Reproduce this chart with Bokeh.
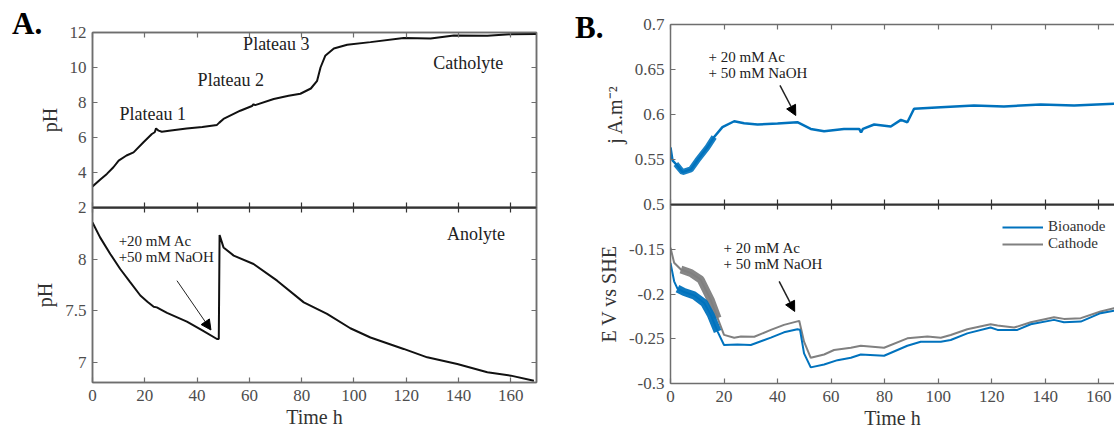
from bokeh.plotting import figure
from bokeh.layouts import row, column
from bokeh.models import (LinearAxis, FixedTicker, Range1d, Label, Arrow, NormalHead,
                          Legend, LegendItem, Div)
from bokeh.embed import file_html
from bokeh.resources import INLINE

FONT = "Liberation Serif"
FRAME = "#6e6e6e"
MID = "#333333"
TICKLBL = "#4d4d4d"
BLUE = "#0072BD"
GRAY = "#808080"

# ---------------- data ----------------
CATH_T = [0, 3, 5.5, 8, 10, 13, 15.7, 19.5, 22.7, 23.8, 24.3, 25.3, 26.5, 30, 36, 42, 47.6,
          48.5, 50.1, 56.5, 61, 61.6, 62.2, 69.3, 75, 79.5, 83.5, 85.9, 87.2, 89, 92.3, 97.4,
          106.3, 119, 129.3, 138.2, 151, 160, 169.7]
CATH_PH = [3.2, 3.6, 3.92, 4.3, 4.68, 4.97, 5.15, 5.73, 6.2, 6.3, 6.52, 6.39, 6.33, 6.4, 6.52,
           6.6, 6.72, 6.85, 7.06, 7.53, 7.8, 7.9, 7.85, 8.2, 8.38, 8.5, 8.8, 9.24, 10.0, 10.67,
           11.09, 11.3, 11.45, 11.68, 11.66, 11.83, 11.81, 11.9, 11.92]

AN_T = [0, 2.9, 6.8, 10.6, 14.4, 18.3, 21, 23.4, 24.6, 26, 28.5, 36.1, 42, 47.6, 48.3, 48.6,
        50.1, 54, 61.6, 70.6, 80.8, 89.7, 98.6, 106.3, 119, 128, 139.5, 151, 160, 168.8]
AN_PH = [8.364, 8.218, 8.056, 7.909, 7.78, 7.65, 7.59, 7.54, 7.534, 7.515, 7.48, 7.395, 7.31,
         7.225, 7.225, 8.24, 8.12, 8.04, 7.958, 7.795, 7.583, 7.47, 7.33, 7.24, 7.128, 7.046,
         6.98, 6.9, 6.867, 6.818]

J_T = [0, 0.75, 2, 4.5, 7.6, 10, 13.8, 16.3, 19.4, 23.8, 27.5, 32.5, 40, 47.4, 52.4, 57.4,
       64.8, 70.5, 71.2, 71.9, 76.1, 82.3, 86.1, 88.5, 91, 101, 113.4, 124.6, 138.3, 150.8,
       165.7, 170]
J_VAL = [0.5635, 0.549, 0.545, 0.536, 0.539, 0.549, 0.5635, 0.575, 0.586, 0.5925, 0.5903,
         0.5889, 0.590, 0.5914, 0.584, 0.5814, 0.584, 0.584, 0.580, 0.584, 0.5889, 0.5866,
         0.594, 0.5914, 0.6064, 0.608, 0.610, 0.609, 0.611, 0.610, 0.612, 0.612]

BIO_T = [0, 1.36, 2.6, 5.1, 8.8, 12.6, 15, 17.6, 20, 25, 30, 37.5, 42.4, 47.4, 48.4, 49.9,
         52.4, 57.4, 62.4, 67.4, 71.1, 79.8, 88.5, 93.5, 101, 104.7, 110.9, 119.6, 122.2,
         129.6, 134.6, 143.3, 147, 153.3, 160.7, 165.7, 170]
BIO_E = [-0.1652, -0.1858, -0.194, -0.1978, -0.2015, -0.210, -0.223, -0.242, -0.257, -0.2563,
         -0.257, -0.2488, -0.2428, -0.2394, -0.24, -0.2664, -0.282, -0.2788, -0.2739, -0.2713,
         -0.2676, -0.269, -0.2578, -0.2533, -0.2533, -0.2514, -0.244, -0.2375, -0.2401,
         -0.2401, -0.2338, -0.2289, -0.2316, -0.2308, -0.2214, -0.2188, -0.218]

CAT_T = [0, 1.36, 3.9, 7.6, 11.3, 15, 17.6, 20, 23.8, 26.3, 31.3, 37.5, 42.4, 48.1, 49.9,
         52.4, 57.4, 61.1, 67.4, 71.1, 79.8, 88.5, 96, 101, 104.7, 110.9, 119.6, 122.2, 128.4,
         134.6, 143.3, 147, 153.3, 160.7, 165.7, 170]
CAT_E = [-0.1483, -0.165, -0.1727, -0.1765, -0.184, -0.2064, -0.227, -0.2457, -0.2488,
         -0.2476, -0.2478, -0.2401, -0.2345, -0.230, -0.2533, -0.2713, -0.2676, -0.2626, -0.26,
         -0.2578, -0.26, -0.2495, -0.2476, -0.2488, -0.2458, -0.2394, -0.2338, -0.2353,
         -0.2375, -0.2316, -0.2259, -0.2278, -0.227, -0.2195, -0.2158, -0.2155]

X_TICKS = [0, 20, 40, 60, 80, 100, 120, 140, 160]
X_LABELS = ["0", "20", "40", "60", "80", "100", "120", "140", "160"]
A_TOP_TICKS = [2, 4, 6, 8, 10, 12]
A_TOP_LABELS = ["2", "4", "6", "8", "10", "12"]
A_BOT_TICKS = [7, 7.5, 8]
A_BOT_LABELS = ["7", "7.5", "8"]
B_TOP_TICKS = [0.5, 0.55, 0.6, 0.65, 0.7]
B_TOP_LABELS = ["0.5", "0.55", "0.6", "0.65", "0.7"]
B_BOT_TICKS = [-0.3, -0.25, -0.2, -0.15]
B_BOT_LABELS = ["-0.3", "-0.25", "-0.2", "-0.15"]

NOISE_WINDOW = (1.5, 18.0)   # early, noisy part of the electrochemical signals


# ---------------- helpers ----------------
def make_fig(x_end, y0, y1, ml, mr, mt, mb, fh, fw=444, transparent=False, outline=False):
    p = figure(x_range=Range1d(0, x_end), y_range=Range1d(y0, y1),
               frame_width=fw, frame_height=fh,
               min_border_left=ml, min_border_right=mr,
               min_border_top=mt, min_border_bottom=mb,
               x_axis_location=None, y_axis_location=None,
               output_backend="svg", toolbar_location=None)
    if outline:
        p.outline_line_color = FRAME
        p.outline_line_width = 1.5
    else:
        p.outline_line_color = None
    p.grid.visible = False
    p.border_fill_alpha = 0
    if transparent:
        p.background_fill_alpha = 0
    else:
        p.background_fill_color = "white"
    return p


def add_axis(p, side, ticks, labels=None, color=FRAME, width=1.5, title=None,
             title_standoff=6, label_standoff=6):
    ax = LinearAxis(ticker=FixedTicker(ticks=ticks))
    ax.axis_line_color = color
    ax.axis_line_width = width
    ax.major_tick_line_color = color
    ax.major_tick_line_width = 1.2
    ax.major_tick_in = 5
    ax.major_tick_out = 0
    ax.minor_tick_line_color = None
    if labels is None:
        ax.major_label_text_font_size = "1px"
        ax.major_label_text_color = None
        ax.major_label_standoff = 0
    else:
        ax.major_label_overrides = {t: l for t, l in zip(ticks, labels)}
        ax.major_label_text_font = FONT
        ax.major_label_text_font_size = "17px"
        ax.major_label_text_color = TICKLBL
        ax.major_label_standoff = label_standoff
    if title:
        ax.axis_label = title
        ax.axis_label_text_font = FONT
        ax.axis_label_text_font_size = "20px"
        ax.axis_label_text_font_style = "normal"
        ax.axis_label_text_color = "#333333"
        ax.axis_label_standoff = title_standoff
    p.add_layout(ax, side)
    return ax


def text(p, x, y, s, size="18px", align="left", baseline="middle", color="#222222"):
    p.add_layout(Label(x=x, y=y, text=s, text_font=FONT, text_font_size=size,
                       text_align=align, text_baseline=baseline, text_color=color))


def arrow(p, x0, y0, x1, y1, lw=1.2):
    p.add_layout(Arrow(end=NormalHead(size=10, fill_color="black", line_color="black"),
                       x_start=x0, y_start=y0, x_end=x1, y_end=y1,
                       line_width=lw, line_color="#222222"))


def window(ts, vs):
    lo, hi = NOISE_WINDOW
    idx = [i for i, t in enumerate(ts) if lo <= t <= hi]
    return [ts[i] for i in idx], [vs[i] for i in idx]


def panel_letter(s, top, left):
    html = ('<div style="font-family: \'Liberation Serif\'; font-size: 31px; '
            'font-weight: bold; line-height: 31px; color: black; white-space: nowrap;">'
            + s + '</div>')
    return Div(text=html, width=50, height=40, margin=(top, 0, -(40 + top), left),
               styles={"z-index": "10", "position": "relative"})


OVERLAP = 10

# ---------------- panel A ----------------
XA = 169.8
a1 = make_fig(XA, 2, 12, ml=92, mr=30, mt=32, mb=OVERLAP, fh=175, outline=True)
add_axis(a1, "left", A_TOP_TICKS, A_TOP_LABELS, title="pH")
add_axis(a1, "right", A_TOP_TICKS)
add_axis(a1, "above", X_TICKS)
add_axis(a1, "below", X_TICKS, color=MID, width=2)
a1.line(CATH_T, CATH_PH, line_color="#111111", line_width=2)
text(a1, 10.3, 7.36, "Plateau 1")
text(a1, 40.2, 9.28, "Plateau 2")
text(a1, 57.6, 11.34, "Plateau 3")
text(a1, 130.3, 10.23, "Catholyte")

a2 = make_fig(XA, 6.8, 8.51, ml=92, mr=30, mt=0, mb=46, fh=175, transparent=True,
              outline=True)
a2.margin = (-OVERLAP, 0, 0, 0)
add_axis(a2, "left", A_BOT_TICKS, A_BOT_LABELS, title="pH")
add_axis(a2, "right", A_BOT_TICKS)
add_axis(a2, "above", X_TICKS, color=MID, width=2)
add_axis(a2, "below", X_TICKS, X_LABELS, title="Time h", title_standoff=2, label_standoff=7)
a2.line(AN_T, AN_PH, line_color="#111111", line_width=2)
text(a2, 135.6, 8.251, "Anolyte")
text(a2, 10.0, 8.186, "+20 mM Ac", size="15px")
text(a2, 10.0, 8.022, "+50 mM NaOH", size="15px")
arrow(a2, 32.3, 7.795, 45.3, 7.313, lw=1)

# ---------------- panel B ----------------
XB = 165.9
b1 = make_fig(XB, 0.5, 0.7, ml=104, mr=0, mt=24, mb=OVERLAP, fh=180)
add_axis(b1, "left", B_TOP_TICKS, B_TOP_LABELS, title="j A.m\u207b\u00b2")
add_axis(b1, "above", X_TICKS)
add_axis(b1, "below", X_TICKS, color=MID, width=2)
b1.line(J_T, J_VAL, line_color=BLUE, line_width=2.5)
jt, jv = window(J_T, J_VAL)
b1.line(jt, jv, line_color=BLUE, line_width=6, line_alpha=0.9)
text(b1, 14.2, 0.6639, "+ 20 mM Ac", size="15px")
text(b1, 14.2, 0.646, "+ 50 mM NaOH", size="15px")
arrow(b1, 40.9, 0.6323, 46.8, 0.5989, lw=1.5)

b2 = make_fig(XB, -0.3, -0.1, ml=104, mr=0, mt=0, mb=45, fh=179, transparent=True)
b2.margin = (-OVERLAP, 0, 0, 0)
add_axis(b2, "left", B_BOT_TICKS, B_BOT_LABELS, title="E V vs SHE")
add_axis(b2, "above", X_TICKS, color=MID, width=2)
add_axis(b2, "below", X_TICKS, X_LABELS, title="Time h", title_standoff=2, label_standoff=7)
r_cat = b2.line(CAT_T, CAT_E, line_color=GRAY, line_width=2)
ct, cv = window(CAT_T, CAT_E)
b2.line(ct, cv, line_color=GRAY, line_width=8, line_alpha=0.95)
r_bio = b2.line(BIO_T, BIO_E, line_color=BLUE, line_width=2)
bt, bv = window(BIO_T, BIO_E)
b2.line(bt, bv, line_color=BLUE, line_width=8, line_alpha=0.95)
text(b2, 19.8, -0.1483, "+ 20 mM Ac", size="15px")
text(b2, 19.8, -0.1663, "+ 50 mM NaOH", size="15px")
arrow(b2, 40.6, -0.1858, 46.4, -0.2195, lw=1.5)

legend = Legend(items=[LegendItem(label="Bioanode", renderers=[r_bio]),
                       LegendItem(label="Cathode", renderers=[r_cat])],
                location=(332, 131), glyph_width=41, glyph_height=16, label_height=16,
                label_standoff=5, spacing=0, padding=0, margin=0,
                border_line_color=None, background_fill_alpha=0,
                label_text_font=FONT, label_text_font_size="15px",
                label_text_color="#333333")
b2.add_layout(legend)

div_a = panel_letter("A.", 8, 12)
div_b = panel_letter("B.", 12, 9)

layout = row(column(div_a, a1, a2), column(div_b, b1, b2))
open("out.html", "w").write(file_html(layout, INLINE))
